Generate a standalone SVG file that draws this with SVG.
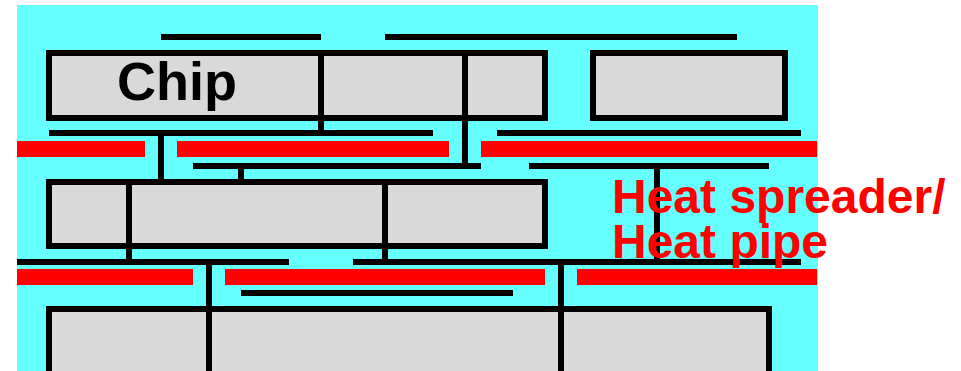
<svg xmlns="http://www.w3.org/2000/svg" width="961" height="371" viewBox="0 0 961 371">
<style>
.box{fill:#d9d9d9;stroke:#000;stroke-width:6}
.ln{stroke:#000;stroke-width:6;fill:none}
.hs{fill:#ff0000}
.lbl{font-family:"Liberation Sans",Arial,sans-serif;font-weight:bold}
</style>
<rect x="17" y="5" width="801" height="366" fill="#66ffff"/>
<g id="chip-row1">
<rect class="box" x="49" y="53" width="496" height="65"/>
<rect class="box" x="593" y="53" width="192" height="65"/>
</g>
<g id="board-row2">
<rect class="box" x="49" y="182" width="496" height="64"/>
</g>
<g id="board-row3">
<rect class="box" x="49" y="309" width="720" height="100"/>
</g>
<g id="heat-spreaders">
<rect class="hs" x="17" y="141" width="128" height="16"/>
<rect class="hs" x="177" y="141" width="272" height="16"/>
<rect class="hs" x="481" y="141" width="336" height="16"/>
<rect class="hs" x="17" y="269" width="176" height="16"/>
<rect class="hs" x="225" y="269" width="320" height="16"/>
<rect class="hs" x="577" y="269" width="240" height="16"/>
</g>
<g id="connectors" class="ln">
<line x1="161" y1="37" x2="321" y2="37"/>
<line x1="385" y1="37" x2="737" y2="37"/>
<line x1="321" y1="53" x2="321" y2="136"/>
<line x1="49" y1="133" x2="433" y2="133"/>
<line x1="497" y1="133" x2="801" y2="133"/>
<line x1="465" y1="53" x2="465" y2="169"/>
<line x1="193" y1="166" x2="481" y2="166"/>
<line x1="529" y1="166" x2="769" y2="166"/>
<line x1="161" y1="133" x2="161" y2="182"/>
<line x1="241" y1="166" x2="241" y2="182"/>
<line x1="657" y1="166" x2="657" y2="262"/>
<line x1="129" y1="182" x2="129" y2="265"/>
<line x1="385" y1="182" x2="385" y2="265"/>
<line x1="17" y1="262" x2="289" y2="262"/>
<line x1="353" y1="262" x2="801" y2="262"/>
<line x1="209" y1="262" x2="209" y2="371"/>
<line x1="561" y1="262" x2="561" y2="371"/>
<line x1="241" y1="293" x2="513" y2="293"/>
</g>
<g id="labels" class="lbl">
<text x="117" y="100" font-size="54" fill="#000">Chip</text>
<text x="612" y="213" font-size="48" fill="#ff0000">Heat spreader/</text>
<text x="612" y="258" font-size="48" fill="#ff0000">Heat pipe</text>
</g>
</svg>
